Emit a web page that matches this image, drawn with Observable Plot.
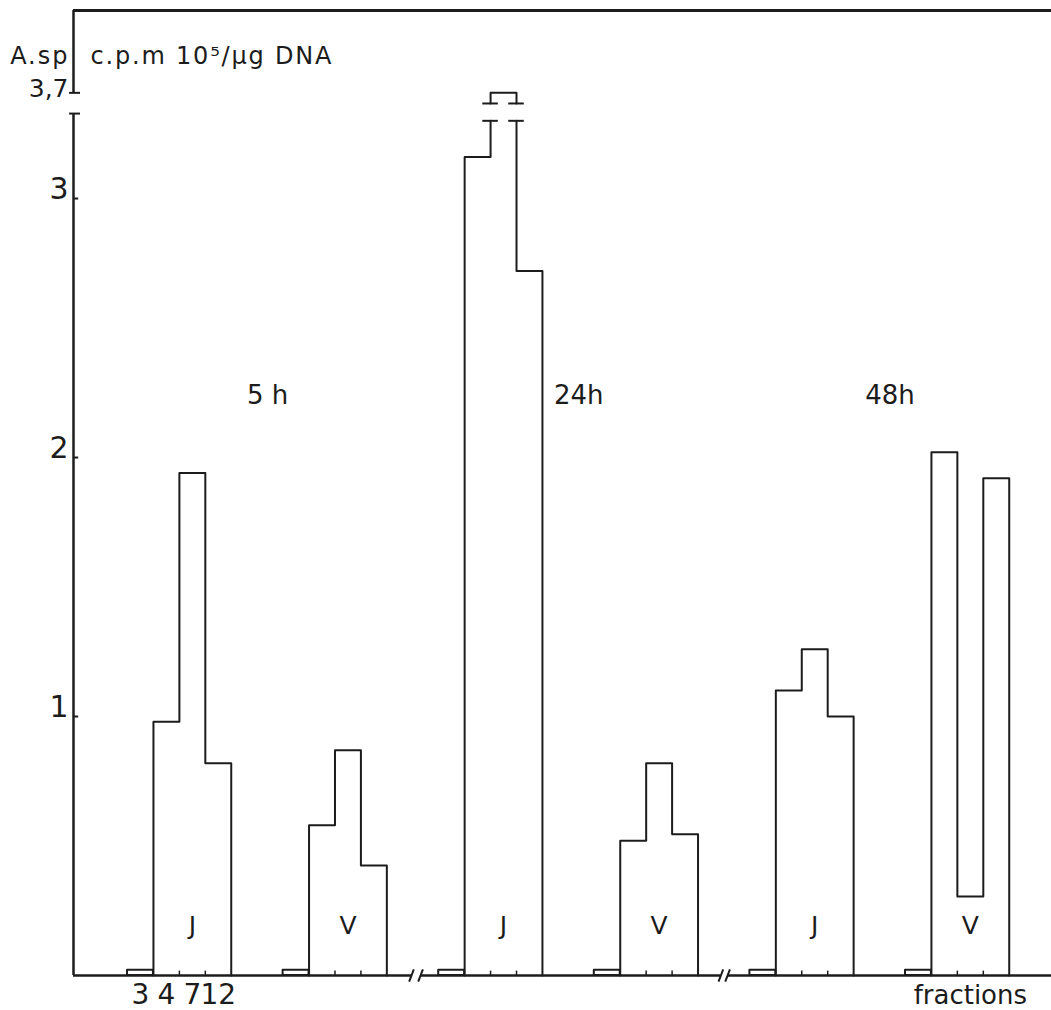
<!DOCTYPE html>
<html><head><meta charset="utf-8">
<script src="https://cdn.jsdelivr.net/npm/d3@7"></script>
<script src="https://cdn.jsdelivr.net/npm/@observablehq/plot@0.6"></script>
<style>body{margin:0;background:#fff} #chart svg{display:block;overflow:visible}</style>
</head><body><div id="chart"></div>
<script>
// ---- data ----
const times = ["5 h", "24h", "48h"];
const cellTypes = ["J", "V"];
const fractions = ["3", "4", "7", "12"];
const valuesJ = [
  [0.02, 0.98, 1.94, 0.82],
  [0.02, 3.16, 3.7, 2.72],
  [0.02, 1.10, 1.26, 1.00]
];
const valuesV = [
  [0.02, 0.58, 0.87, 0.425],
  [0.02, 0.52, 0.82, 0.545],
  [0.02, 2.02, 0.305, 1.92]
];
const yTicks = [1, 2, 3];
const yTickLabels = ["1", "2", "3"];
const yTopTick = 3.7;
const yTopLabel = "3,7";
const yTitleLeft = "A.sp";
const yTitleRight = "c.p.m 10\u2075/\u03bcg DNA";
const xTitle = "fractions";

// ---- broken y scale ----
const BREAK_AT = 3.3, COMPRESS = 0.27;
const disp = v => v <= BREAK_AT ? v : BREAK_AT + (v - BREAK_AT) * COMPRESS;
const barGapLow = 3.30, barGapHigh = 3.367;
const axisGapLow = 3.328;

// ---- layout in slot units ----
const slotsPerCell = 6, slotsPerTime = 12;
const xMin = -2.083, xMax = 35.63, yMax = 3.726;

const groups = [];
times.forEach((t, ti) => cellTypes.forEach((c, ci) => {
  groups.push({time: t, cell: c, base: ti * slotsPerTime + ci * slotsPerCell, vals: ci === 0 ? valuesJ[ti] : valuesV[ti]});
}));

// first fraction: small closed box
const smallBars = groups.map(g => ({x1: g.base, x2: g.base + 1, value: g.vals[0]}));

// remaining fractions: histogram step outline (split at the axis break)
const outline = [];
const brokenEdges = [];
let seg = 0;
groups.forEach(g => {
  const s = g.base + 1;
  const v = g.vals.slice(1);
  const p = [[s, 0], [s, v[0]], [s + 1, v[0]], [s + 1, v[1]], [s + 2, v[1]], [s + 2, v[2]], [s + 3, v[2]], [s + 3, 0]]
    .map(([x, y]) => [x, disp(y)]);
  seg++;
  outline.push({x: p[0][0], y: p[0][1], seg});
  for (let i = 1; i < p.length; i++) {
    const [xa, ya] = p[i - 1], [xb, yb] = p[i];
    if (xa === xb && Math.min(ya, yb) < barGapLow && Math.max(ya, yb) > barGapHigh) {
      const up = yb > ya;
      outline.push({x: xa, y: up ? barGapLow : barGapHigh, seg});
      seg++;
      outline.push({x: xa, y: up ? barGapHigh : barGapLow, seg});
      brokenEdges.push(xa);
    }
    outline.push({x: xb, y: yb, seg});
  }
});

const cellLabels = groups.map(g => ({label: g.cell, x: g.base + 2.5}));
const timeLabels = times.map((t, ti) => ({label: t, x: ti * slotsPerTime + 5.4}));
const innerTicks = groups.flatMap(g => [g.base + 2, g.base + 3]);
const xBreaks = [[10.95, 11.3], [22.88, 23.14]];
const baseSegs = [[xMin, xBreaks[0][0]], [xBreaks[0][1], xBreaks[1][0]], [xBreaks[1][1], xMax]];
const slashes = xBreaks.flat();
const fracLabels = fractions.map((f, i) => ({label: f, x: i + 0.5}));

const ink = "#1c1c1c";
const font = "DejaVu Sans";

const chart = Plot.plot({
  width: 1051, height: 1010,
  marginLeft: 73, marginRight: 0, marginTop: 10, marginBottom: 35,
  x: {domain: [xMin, xMax], axis: null},
  y: {domain: [0, yMax], axis: null},
  style: {fontFamily: font, background: "white"},
  marks: [
    Plot.rect(smallBars, {x1: "x1", x2: "x2", y1: 0, y2: d => disp(d.value), fill: "none", stroke: ink, strokeWidth: 2, strokeLinejoin: "round"}),
    Plot.line(outline, {x: "x", y: "y", z: "seg", stroke: ink, strokeWidth: 2, strokeLinejoin: "round"}),
    Plot.ruleY(brokenEdges.flatMap(e => [[e, barGapLow], [e, barGapHigh]]), {y: d => d[1], x1: d => d[0] - 0.3, x2: d => d[0] + 0.3, stroke: ink, strokeWidth: 2}),
    // baseline
    Plot.ruleY(baseSegs, {y: 0, x1: d => d[0], x2: d => d[1], stroke: ink, strokeWidth: 2.5}),
    Plot.link(slashes, {x1: d => d - 0.09, x2: d => d + 0.09, y1: -0.024, y2: 0.024, stroke: ink, strokeWidth: 2}),
    Plot.ruleX(innerTicks, {x: d => d, y1: 0, y2: 0.017, stroke: ink, strokeWidth: 1.5}),
    // left axis with break
    Plot.ruleX([xMin], {y1: 0, y2: axisGapLow, stroke: ink, strokeWidth: 2.5}),
    Plot.ruleX([xMin], {y1: disp(yTopTick), y2: yMax, stroke: ink, strokeWidth: 2.5}),
    Plot.ruleY([axisGapLow, disp(yTopTick)], {x1: xMin - 0.15, x2: xMin + 0.27, stroke: ink, strokeWidth: 2}),
    Plot.ruleY(yTicks, {x1: xMin, x2: xMin + 0.2, stroke: ink, strokeWidth: 2}),
    // top frame
    Plot.ruleY([yMax], {x1: xMin, x2: xMax, stroke: ink, strokeWidth: 3}),
    // texts
    Plot.text(yTicks, {x: xMin, y: d => d, text: (d, i) => yTickLabels[i], textAnchor: "end", lineAnchor: "bottom", dx: -5, dy: 0, fontSize: 30, fill: ink}),
    Plot.text([yTopLabel], {x: xMin, y: disp(yTopTick), text: d => d, textAnchor: "end", lineAnchor: "bottom", dx: -5, dy: 4, fontSize: 25, fill: ink}),
    Plot.text([yTitleLeft], {x: xMin, y: 3.548, text: d => d, textAnchor: "end", dx: -4, fontSize: 24, fill: ink}),
    Plot.text([yTitleRight], {x: xMin, y: 3.548, text: d => d, textAnchor: "start", dx: 17, fontSize: 24, fill: ink}),
    Plot.text(fracLabels, {x: "x", y: 0, text: "label", dy: 20, fontSize: 28, fill: ink}),
    Plot.text([xTitle], {x: 32.5, y: 0, text: d => d, dy: 20, fontSize: 26, fill: ink}),
    Plot.text(timeLabels, {x: "x", y: 2.24, text: "label", fontSize: 26, fill: ink}),
    Plot.text(cellLabels, {x: "x", y: 0.193, text: "label", fontSize: 25, fill: ink})
  ]
});
d3.select(chart).selectAll("text").each(function() {
  const t = this.textContent;
  if (t === yTitleLeft) this.setAttribute("letter-spacing", "2");
  if (t === yTitleRight) this.setAttribute("letter-spacing", "1.8");
});
document.getElementById("chart").appendChild(chart);
</script>
</body></html>
